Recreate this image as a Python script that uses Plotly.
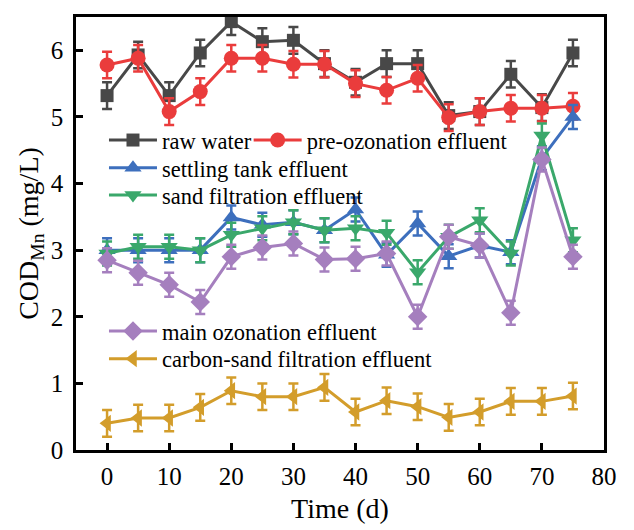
import plotly.graph_objects as go

time_d = [0, 5, 10, 15, 20, 25, 30, 35, 40, 45, 50, 55, 60, 65, 70, 75]

raw_water = [5.32, 5.93, 5.32, 5.96, 6.43, 6.13, 6.15, 5.80, 5.52, 5.80, 5.80, 5.02, 5.08, 5.64, 5.14, 5.96]
pre_ozonation = [5.78, 5.88, 5.08, 5.38, 5.88, 5.88, 5.79, 5.79, 5.50, 5.40, 5.58, 4.99, 5.08, 5.13, 5.13, 5.16]
settling_tank = [3.00, 3.00, 3.00, 3.00, 3.49, 3.38, 3.42, 3.30, 3.61, 2.93, 3.40, 2.91, 3.07, 2.97, 4.38, 5.00]
sand_filtration = [2.95, 3.05, 3.05, 3.00, 3.23, 3.33, 3.42, 3.30, 3.33, 3.26, 2.67, 3.20, 3.45, 2.95, 4.72, 3.15]
main_ozonation = [2.85, 2.66, 2.48, 2.22, 2.90, 3.04, 3.10, 2.86, 2.87, 2.95, 2.00, 3.20, 3.07, 2.06, 4.36, 2.90]
carbon_sand = [0.40, 0.48, 0.48, 0.64, 0.89, 0.80, 0.80, 0.94, 0.57, 0.74, 0.65, 0.49, 0.57, 0.73, 0.73, 0.81]

err_raw = [0.2] * 16
err_pre = [0.2] * 16
err_settle = [0.18] * 16
err_sand = [0.18] * 16
err_main = [0.18] * 16
err_carbon = [0.2] * 16

series = [
    ("raw water", raw_water, err_raw, "#484848", "square", "legend", 13),
    ("pre-ozonation effluent", pre_ozonation, err_pre, "#ea3c3c", "circle", "legend2", 15),
    ("settling tank effluent", settling_tank, err_settle, "#3d6fbd", "triangle-up", "legend3", 15),
    ("sand filtration effluent", sand_filtration, err_sand, "#3aa86b", "triangle-down", "legend4", 15),
    ("main ozonation effluent", main_ozonation, err_main, "#a57fbe", "diamond", "legend5", 15),
    ("carbon-sand filtration effluent", carbon_sand, err_carbon, "#d39d2b", "triangle-left", "legend6", 15),
]

fig = go.Figure()
for name, vals, errs, color, sym, leg, msize in series:
    fig.add_trace(go.Scatter(
        x=time_d, y=vals, name=name, mode="lines+markers",
        line=dict(color=color, width=3),
        marker=dict(symbol=sym, size=msize, color=color),
        error_y=dict(type="data", array=errs, visible=True, color=color, thickness=2.5, width=5),
        legend=leg, showlegend=True,
    ))

font_family = "Liberation Serif"
leg_font = dict(family=font_family, size=22.5, color="black")

def leg(xp, yp):
    return dict(x=xp, y=yp, xanchor="left", yanchor="middle", font=leg_font,
                bgcolor="rgba(0,0,0,0)", itemwidth=48, borderwidth=0, visible=True)

fig.update_layout(
    width=626, height=522,
    margin=dict(l=68, r=30, t=9, b=80),
    paper_bgcolor="white", plot_bgcolor="white",
    showlegend=True,
    font=dict(family=font_family, color="black"),
    legend=leg(0.053, 0.715),
    legend2=leg(0.327, 0.715),
    legend3=leg(0.053, 0.651),
    legend4=leg(0.053, 0.588),
    legend5=leg(0.053, 0.274),
    legend6=leg(0.053, 0.21),
    xaxis=dict(
        range=[-5, 80], tickvals=[0, 10, 20, 30, 40, 50, 60, 70, 80],
        ticks="inside", ticklen=7, tickwidth=2.5, tickcolor="black",
        ticklabelstandoff=2,
        showline=True, linecolor="black", linewidth=2.5, mirror=True,
        showgrid=False, zeroline=False, automargin=False,
        tickfont=dict(family=font_family, size=25, color="black"),
        title=dict(text="Time (d)", font=dict(family=font_family, size=28, color="black"), standoff=10),
    ),
    yaxis=dict(
        range=[0, 6.5], tickvals=[0, 1, 2, 3, 4, 5, 6],
        ticks="inside", ticklen=7, tickwidth=2.5, tickcolor="black",
        ticklabelstandoff=5,
        showline=True, linecolor="black", linewidth=2.5, mirror=True,
        showgrid=False, zeroline=False, automargin=False,
        tickfont=dict(family=font_family, size=25, color="black"),
        title=dict(text="COD<sub>Mn</sub> (mg/L)", font=dict(family=font_family, size=28, color="black"), standoff=4),
    ),
)

fig.write_html("out.html")
